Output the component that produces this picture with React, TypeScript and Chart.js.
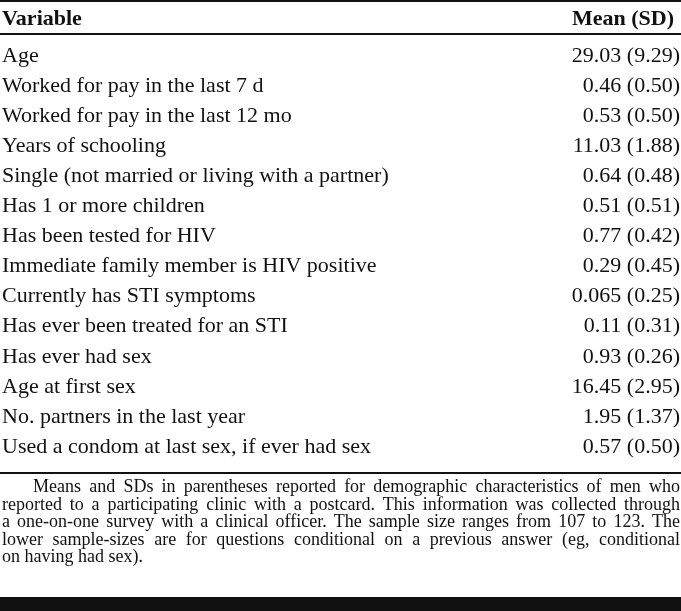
import React, { useEffect, useRef } from "react";
import { Chart, registerables } from "chart.js";

Chart.register(...registerables);

const headerVariable = "Variable";
const headerValue = "Mean (SD)";

const variables = [
  "Age",
  "Worked for pay in the last 7 d",
  "Worked for pay in the last 12 mo",
  "Years of schooling",
  "Single (not married or living with a partner)",
  "Has 1 or more children",
  "Has been tested for HIV",
  "Immediate family member is HIV positive",
  "Currently has STI symptoms",
  "Has ever been treated for an STI",
  "Has ever had sex",
  "Age at first sex",
  "No. partners in the last year",
  "Used a condom at last sex, if ever had sex",
];

const means = ["29.03", "0.46", "0.53", "11.03", "0.64", "0.51", "0.77", "0.29", "0.065", "0.11", "0.93", "16.45", "1.95", "0.57"];
const sds = ["9.29", "0.50", "0.50", "1.88", "0.48", "0.51", "0.42", "0.45", "0.25", "0.31", "0.26", "2.95", "1.37", "0.50"];

const footnoteLines = [
  "Means and SDs in parentheses reported for demographic characteristics of men who",
  "reported to a participating clinic with a postcard. This information was collected through",
  "a one-on-one survey with a clinical officer. The sample size ranges from 107 to 123. The",
  "lower sample-sizes are for questions conditional on a previous answer (eg, conditional",
  "on having had sex).",
];

const SERIF = "'Liberation Serif', 'Times New Roman', serif";
const INK = "#111";

const tablePlugin = {
  id: "tableDecor",
  afterDraw(chart: any) {
    const ctx = chart.ctx as CanvasRenderingContext2D;
    const W = chart.width;
    const area = chart.chartArea;
    ctx.save();
    ctx.fillStyle = INK;
    // rules
    ctx.fillRect(0, 0, W, 2);
    ctx.fillRect(0, area.top - 8, W, 2);
    ctx.fillRect(0, area.bottom + 10, W, 2);
    ctx.fillRect(0, chart.height - 14, W, 14);

    // header
    ctx.font = "bold 22px " + SERIF;
    ctx.textBaseline = "alphabetic";
    ctx.textAlign = "left";
    ctx.fillText(headerVariable, 2, 25);
    ctx.textAlign = "right";
    ctx.fillText(headerValue, W - 7, 25);

    // footnote (justified)
    ctx.font = "18px " + SERIF;
    ctx.textAlign = "left";
    const right = W - 1;
    footnoteLines.forEach((line, i) => {
      const y = area.bottom + 30 + i * 17.6;
      const startX = i === 0 ? 33 : 2;
      const words = line.split(" ");
      const last = i === footnoteLines.length - 1;
      if (last) {
        ctx.fillText(line, startX, y);
        return;
      }
      const widths = words.map((w) => ctx.measureText(w).width);
      const sum = widths.reduce((a, b) => a + b, 0);
      const target = right - startX;
      let gap = (target - sum) / (words.length - 1);
      let sx = 1;
      const spaceW = ctx.measureText(" ").width;
      if (gap < spaceW * 0.9) {
        gap = spaceW * 0.9;
        sx = target / (sum + gap * (words.length - 1));
      }
      ctx.save();
      ctx.translate(startX, y);
      ctx.scale(sx, 1);
      let x = 0;
      words.forEach((w, k) => {
        ctx.fillText(w, x, 0);
        x += widths[k] + gap;
      });
      ctx.restore();
    });
    ctx.restore();
  },
};

export default function App() {
  const ref = useRef<HTMLCanvasElement | null>(null);
  useEffect(() => {
    if (!ref.current) return;
    const valueLabels = means.map((m, i) => `${m} (${sds[i]})`);
    const chart = new Chart(ref.current, {
      type: "bar",
      data: {
        labels: variables,
        datasets: [
          {
            label: headerValue,
            data: means.map(Number),
            backgroundColor: "rgba(0,0,0,0)",
            borderWidth: 0,
          },
        ],
      },
      options: {
        animation: false,
        responsive: true,
        maintainAspectRatio: false,
        indexAxis: "y",
        layout: { padding: { left: 2, right: 1, top: 41, bottom: 149 } },
        plugins: { legend: { display: false }, tooltip: { enabled: false }, title: { display: false } },
        scales: {
          x: { display: false },
          y: {
            position: "left",
            grid: { display: false, drawTicks: false },
            border: { display: false },
            afterFit: (s: any) => {
              s.width = 470;
            },
            ticks: {
              autoSkip: false,
              crossAlign: "far",
              color: INK,
              font: { family: SERIF, size: 22 },
              padding: 0,
            },
          },
          yValues: {
            type: "category",
            axis: "y",
            position: "right",
            labels: valueLabels,
            offset: true,
            grid: { display: false, drawTicks: false },
            border: { display: false },
            afterFit: (s: any) => {
              s.width = 150;
            },
            ticks: {
              autoSkip: false,
              crossAlign: "far",
              color: INK,
              font: { family: SERIF, size: 22 },
              padding: 0,
            },
          },
        } as any,
      },
      plugins: [tablePlugin],
    } as any);
    return () => chart.destroy();
  }, []);
  return (
    <div style={{ position: "absolute", left: 0, top: 0, width: 681, height: 611, background: "#fff" }}>
      <canvas ref={ref} />
    </div>
  );
}
